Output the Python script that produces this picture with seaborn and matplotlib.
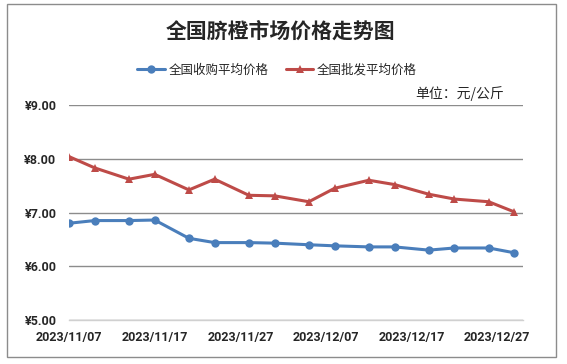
import pandas as pd
import seaborn as sns
import matplotlib.pyplot as plt
import matplotlib.dates as mdates
from matplotlib.patches import Rectangle
from matplotlib.ticker import FuncFormatter

# Data
dates = ['2023-11-07', '2023-11-10', '2023-11-14', '2023-11-17', '2023-11-21', '2023-11-24',
         '2023-11-28', '2023-12-01', '2023-12-05', '2023-12-08', '2023-12-12', '2023-12-15',
         '2023-12-19', '2023-12-22', '2023-12-26', '2023-12-29']
purchase = [6.80, 6.85, 6.85, 6.86, 6.52, 6.44, 6.44, 6.43, 6.40, 6.38, 6.36, 6.36, 6.30, 6.34, 6.34, 6.25]
wholesale = [8.04, 7.83, 7.62, 7.71, 7.42, 7.62, 7.32, 7.31, 7.20, 7.45, 7.60, 7.52, 7.34, 7.25, 7.20, 7.01]
series_names = ['全国收购平均价格', '全国批发平均价格']
tick_dates = ['2023-11-07', '2023-11-17', '2023-11-27', '2023-12-07', '2023-12-17', '2023-12-27']

df = pd.DataFrame({'date': pd.to_datetime(dates),
                   series_names[0]: purchase,
                   series_names[1]: wholesale})
df_long = df.melt(id_vars='date', var_name='series', value_name='price')

sns.set_style('white')
plt.rcParams['font.family'] = ['Noto Sans CJK SC', 'DejaVu Sans']

fig = plt.figure(figsize=(5.67, 3.64), dpi=100)
ax = fig.add_axes([69 / 567, 44 / 364, 454 / 567, 215 / 364])

palette = {series_names[0]: '#4A7EBB', series_names[1]: '#BE4B48'}
sns.lineplot(data=df_long, x='date', y='price', hue='series', style='series',
             markers={series_names[0]: 'o', series_names[1]: '^'}, dashes=False,
             palette=palette, linewidth=2.2, markersize=6, markeredgewidth=0,
             ax=ax, legend=False)

ax.set_ylim(5, 9)
ax.set_yticks([5, 6, 7, 8, 9])
ax.yaxis.set_major_formatter(FuncFormatter(lambda v, p: f'¥{v:.2f}'))
ax.set_xlim(pd.Timestamp('2023-11-07'), pd.Timestamp('2023-12-30'))
ax.set_xticks(pd.to_datetime(tick_dates))
ax.xaxis.set_major_formatter(mdates.DateFormatter('%Y/%m/%d'))
ax.set_xlabel('')
ax.set_ylabel('')

ax.grid(axis='y', color='#8c8c8c', linewidth=1)
ax.grid(axis='x', visible=False)
for s in ['top', 'right', 'left']:
    ax.spines[s].set_visible(False)
ax.spines['bottom'].set_color('#d0d0d0')
ax.spines['bottom'].set_linewidth(1)
ax.tick_params(axis='x', direction='inout', length=6, color='#d0d0d0', pad=5)
ax.tick_params(axis='y', length=0, pad=9)
for lab in ax.get_xticklabels() + ax.get_yticklabels():
    lab.set_fontweight('bold')
    lab.set_fontsize(9)
    lab.set_family(['Roboto', 'DejaVu Sans'])

# legend
handles = [plt.Line2D([], [], color=palette[series_names[0]], marker='o', lw=2.2, ms=6, mew=0),
           plt.Line2D([], [], color=palette[series_names[1]], marker='^', lw=2.2, ms=6, mew=0)]
fig.legend(handles, series_names, loc='center', bbox_to_anchor=(277 / 567, 1 - 70 / 364),
           ncol=2, frameon=False, fontsize=9, handlelength=2.2, columnspacing=1.4,
           handletextpad=0.3)

fig.text(280 / 567, 1 - 31 / 364, '全国脐橙市场价格走势图', ha='center', va='center',
         fontsize=15, fontweight='bold')
fig.text(460 / 567, 1 - 94 / 364, '单位：元/公斤', ha='center', va='center', fontsize=10)

fig.patches.append(Rectangle((7 / 567, 7 / 364), 549 / 567, 353 / 364, transform=fig.transFigure,
                             fill=False, edgecolor='#8c8c8c', linewidth=1))

fig.savefig('out.png', dpi=100)
